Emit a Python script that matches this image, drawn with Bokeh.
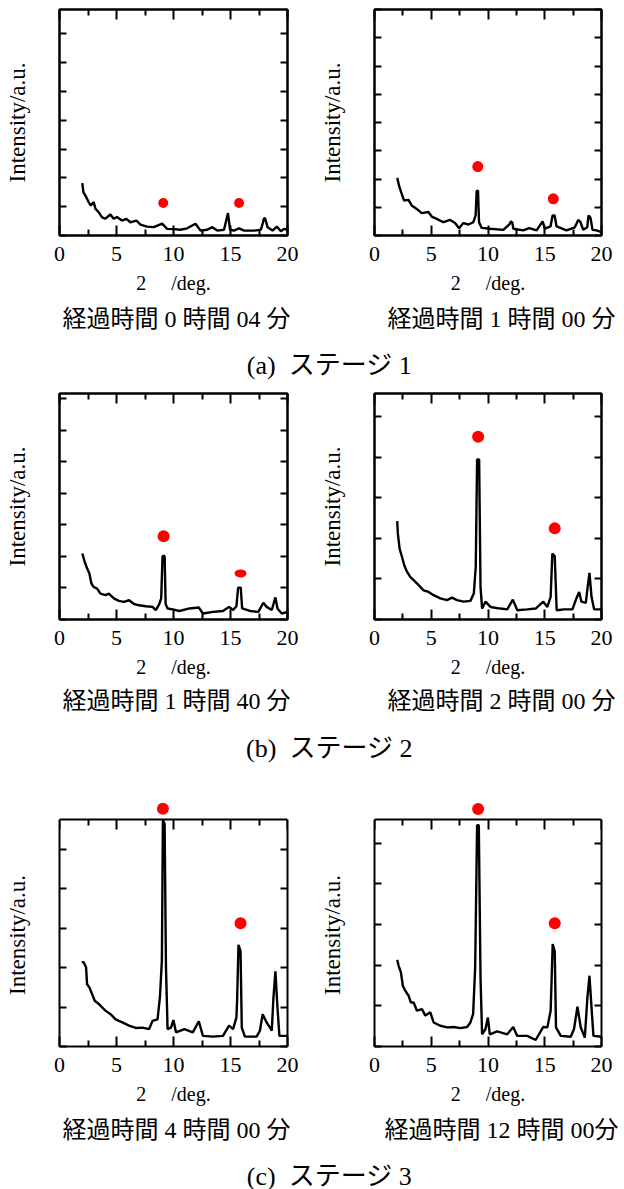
from bokeh.plotting import figure
from bokeh.models import Label, LinearAxis, FixedTicker, Range1d
from bokeh.layouts import column, row
from bokeh.embed import file_html
from bokeh.resources import INLINE

# ---------------- data ----------------
x_major = [0, 5, 10, 15, 20]
x_minor = [2.5, 7.5, 12.5, 17.5]
y_ticks = [0, 1, 2, 3, 4, 5, 6, 7, 8]

a1_x = [2.0, 2.1, 2.35, 2.55, 2.75, 3.0, 3.15, 3.43, 3.72, 4.0, 4.46, 4.75, 5.04, 5.48, 5.87, 6.22,
        6.75, 7.1, 7.68, 8.27, 9.0, 9.44, 10.03, 10.6, 11.2, 11.93, 12.37, 12.96, 13.4, 13.84, 14.43,
        14.78, 14.96, 15.3, 15.75, 16.2, 17.07, 17.66, 17.85, 17.95, 18.05, 18.25, 18.69, 19.06,
        19.42, 19.7, 20.0]
a1_y = [1.82, 1.50, 1.33, 1.16, 1.04, 1.16, 0.93, 0.81, 0.64, 0.58, 0.73, 0.58, 0.64, 0.52, 0.58, 0.46,
        0.52, 0.38, 0.31, 0.29, 0.41, 0.23, 0.22, 0.20, 0.25, 0.41, 0.17, 0.20, 0.29, 0.17, 0.20,
        0.78, 0.20, 0.17, 0.25, 0.17, 0.17, 0.20, 0.45, 0.61, 0.58, 0.29, 0.17, 0.31,
        0.15, 0.23, 0.20]
a1_dot_x = [9.1, 15.75]
a1_dot_y = [1.13, 1.13]
a1_ymax = 7.85
a1_caption = "経過時間 0 時間 04 分"

a2_x = [2.0, 2.2, 2.4, 2.6, 3.0, 3.28, 3.72, 4.16, 4.75, 5.04, 5.48, 6.07, 6.66, 7.1, 7.45, 7.83,
        8.27, 8.71, 8.91, 9.0, 9.12, 9.21, 9.44, 10.18, 11.35, 11.9, 12.02, 12.15, 12.23, 13.1, 13.64,
        14.28, 14.81, 15.01, 15.51, 15.69, 15.87, 16.04, 16.92, 17.65, 17.95, 18.15, 18.39, 18.74,
        18.86, 19.03, 19.21, 19.56, 20.0]
a2_y = [2.04, 1.71, 1.47, 1.24, 1.26, 1.06, 0.94, 0.79, 0.83, 0.67, 0.59, 0.47, 0.55, 0.44, 0.26, 0.44,
        0.39, 0.47, 0.71, 1.57, 1.59, 0.47, 0.27, 0.24, 0.20, 0.40, 0.50, 0.45, 0.24, 0.18, 0.26,
        0.18, 0.50, 0.24, 0.32, 0.71, 0.71, 0.32, 0.18, 0.29, 0.55, 0.47, 0.20, 0.29,
        0.71, 0.63, 0.20, 0.18, 0.12]
a2_dot_x = [9.1, 15.75]
a2_dot_y = [2.44, 1.30]
a2_ymax = 8.0
a2_caption = "経過時間 1 時間 00 分"

b1_x = [2.0, 2.21, 2.42, 2.62, 2.8, 3.0, 3.3, 3.59, 4.03, 4.33, 4.77, 5.21, 5.65, 6.1, 6.54, 6.98,
        7.57, 8.16, 8.45, 8.75, 8.92, 9.04, 9.22, 9.31, 9.48, 9.93, 10.52, 11.4, 12.22, 12.58, 13.46,
        14.34, 14.87, 15.23, 15.52, 15.67, 15.9, 16.02, 16.7, 17.44, 17.88, 18.17, 18.62, 18.94,
        19.12, 19.5, 20.0]
b1_y = [2.09, 1.83, 1.62, 1.46, 1.14, 1.03, 0.98, 0.82, 0.77, 0.82, 0.67, 0.59, 0.56, 0.61, 0.49, 0.45,
        0.42, 0.40, 0.30, 0.49, 0.67, 2.01, 2.01, 0.49, 0.35, 0.32, 0.27, 0.35, 0.38, 0.19, 0.24,
        0.27, 0.40, 0.30, 0.42, 1.01, 1.01, 0.35, 0.27, 0.24, 0.53, 0.40, 0.30, 0.70,
        0.35, 0.19, 0.24]
b1_dot_x = [9.13, 15.88]
b1_dot_y = [2.64, 1.46]
b1_ymax = 7.16
b1_caption = "経過時間 1 時間 40 分"

b2_x = [2.0, 2.06, 2.21, 2.42, 2.62, 2.86, 3.15, 3.45, 3.89, 4.33, 4.77, 5.21, 5.8, 6.39, 6.83, 7.27,
        7.86, 8.45, 8.75, 8.92, 9.04, 9.22, 9.34, 9.48, 9.78, 10.22, 11.1, 11.69, 12.19, 12.58, 13.46,
        14.2, 14.87, 15.23, 15.52, 15.67, 15.88, 16.05, 16.7, 17.44, 17.73, 18.03, 18.23, 18.62,
        18.76, 18.94, 19.12, 19.35, 20.0]
b2_y = [2.43, 2.12, 1.75, 1.55, 1.34, 1.18, 1.05, 0.97, 0.85, 0.72, 0.68, 0.60, 0.52, 0.48, 0.54, 0.48,
        0.44, 0.46, 0.64, 1.30, 3.95, 3.95, 0.81, 0.27, 0.44, 0.31, 0.27, 0.25, 0.49, 0.23, 0.25,
        0.27, 0.44, 0.31, 0.56, 1.63, 1.56, 0.23, 0.25, 0.25, 0.48, 0.68, 0.44, 0.41,
        0.76, 1.15, 0.56, 0.25, 0.25]
b2_dot_x = [9.13, 15.88]
b2_dot_y = [4.51, 2.25]
b2_ymax = 5.58
b2_caption = "経過時間 2 時間 00 分"

c1_x = [1.95, 2.12, 2.33, 2.42, 2.62, 2.86, 3.09, 3.45, 3.74, 4.03, 4.48, 4.92, 5.51, 6.1, 6.69, 7.27,
        7.86, 8.16, 8.6, 8.81, 8.98, 9.07, 9.22, 9.34, 9.48, 9.78, 9.99, 10.22, 10.96, 11.69, 12.22,
        12.58, 13.46, 14.34, 14.87, 15.23, 15.52, 15.58, 15.7, 15.88, 15.99, 16.26, 17.29, 17.58,
        17.82, 18.17, 18.47, 18.62, 18.76, 18.94, 19.12, 19.29, 20.0]
c1_y = [2.14, 2.14, 2.01, 1.58, 1.50, 1.33, 1.16, 1.08, 0.99, 0.91, 0.82, 0.69, 0.61, 0.53, 0.47, 0.48,
        0.44, 0.65, 0.69, 1.25, 2.18, 5.74, 5.65, 2.01, 0.44, 0.48, 0.67, 0.36, 0.44, 0.36, 0.64,
        0.27, 0.25, 0.27, 0.53, 0.44, 0.74, 1.16, 2.58, 2.42, 0.48, 0.25, 0.25, 0.40,
        0.82, 0.61, 0.48, 0.40, 1.20, 1.91, 0.99, 0.27, 0.27]
c1_dot_x = [9.07, 15.88]
c1_dot_y = [6.03, 3.13]
c1_ymax = 5.76
c1_caption = "経過時間 4 時間 00 分"

c2_x = [2.0, 2.12, 2.33, 2.5, 2.71, 3.0, 3.21, 3.45, 3.74, 4.18, 4.48, 4.92, 5.21, 5.8, 6.39, 6.98,
        7.57, 8.16, 8.45, 8.69, 8.87, 9.04, 9.19, 9.34, 9.48, 9.78, 9.99, 10.16, 10.81, 11.69, 12.22,
        12.58, 13.46, 14.2, 14.87, 15.23, 15.52, 15.7, 15.88, 15.99, 16.41, 17.29, 17.58, 17.88,
        18.17, 18.53, 18.76, 18.94, 19.12, 19.29, 20.0]
c2_y = [2.13, 1.99, 1.82, 1.49, 1.37, 1.25, 1.08, 1.08, 0.88, 0.92, 0.76, 0.84, 0.59, 0.51, 0.47, 0.48,
        0.45, 0.48, 0.59, 0.80, 1.95, 5.44, 5.44, 1.70, 0.30, 0.43, 0.71, 0.30, 0.37, 0.30, 0.48,
        0.26, 0.26, 0.16, 0.48, 0.47, 0.88, 2.52, 2.34, 0.47, 0.26, 0.24, 0.43, 0.98,
        0.47, 0.22, 1.21, 1.74, 0.96, 0.26, 0.24]
c2_dot_x = [9.13, 15.88]
c2_dot_y = [5.84, 3.03]
c2_ymax = 5.58
c2_caption = "経過時間 12 時間 00分"

x_label = "2\u2003 /deg."
y_label = "Intensity/a.u."
stage_captions = ["(a)\u2002ステージ 1", "(b)\u2002ステージ 2", "(c)\u2002ステージ 3"]

# ---------------- styling ----------------
SERIF = "Liberation Serif"
MIXED = "'Liberation Serif', 'Noto Sans CJK JP'"


def style_axis(ax, labels):
    ax.axis_line_color = "black"
    ax.axis_line_width = 2
    ax.major_tick_line_color = "black"
    ax.major_tick_line_width = 2
    ax.minor_tick_line_color = "black"
    ax.minor_tick_line_width = 2
    ax.major_tick_out = 0
    ax.minor_tick_out = 0
    if not labels:
        ax.major_label_text_font_size = "0px"
        ax.major_label_text_color = None
        ax.major_label_standoff = 0


def make_panel(xs, ys, dxs, dys, ymax, mb_left, mb_right, mb_top, mb_bottom,
               fw, fh, dot_w, dot_h, extra_top_px=0):
    # extra_top_px: room above the drawn box (the box top is the axis fixed at ymax)
    ytop = ymax * (fh + extra_top_px) / fh
    p = figure(frame_width=fw, frame_height=fh + extra_top_px,
               x_range=Range1d(0, 20), y_range=Range1d(0, ytop),
               x_axis_type=None, y_axis_type=None,
               output_backend="svg", toolbar_location=None,
               min_border_left=mb_left, min_border_right=mb_right,
               min_border_top=mb_top, min_border_bottom=mb_bottom)
    p.background_fill_color = "white"
    p.border_fill_color = "white"
    if extra_top_px:
        p.outline_line_color = None
    else:
        p.outline_line_color = "black"
        p.outline_line_width = 2

    xt = FixedTicker(ticks=x_major, minor_ticks=x_minor)
    yt = FixedTicker(ticks=[t for t in y_ticks if t <= ymax])

    bottom = LinearAxis(ticker=xt)
    style_axis(bottom, True)
    bottom.major_tick_in = 10
    bottom.minor_tick_in = 6
    bottom.major_label_text_font = SERIF
    bottom.major_label_text_font_size = "22px"
    bottom.major_label_text_color = "black"
    bottom.major_label_standoff = 11
    bottom.axis_label = x_label
    bottom.axis_label_text_font = SERIF
    bottom.axis_label_text_font_size = "20px"
    bottom.axis_label_text_font_style = "normal"
    bottom.axis_label_text_color = "black"
    bottom.axis_label_standoff = 8
    p.add_layout(bottom, "below")

    top = LinearAxis(ticker=xt)
    style_axis(top, False)
    top.major_tick_in = 10
    top.minor_tick_in = 6
    if extra_top_px:
        top.fixed_location = ymax
    p.add_layout(top, "above")

    left = LinearAxis(ticker=yt, bounds=(0, ymax))
    style_axis(left, False)
    left.major_tick_in = 7
    left.minor_tick_line_color = None
    # the label is centred on the whole frame; pad its end so the visible
    # text stays centred on the drawn box when the frame is taller
    left.axis_label = y_label + ("\u2003" if extra_top_px else "")
    left.axis_label_text_font = SERIF
    left.axis_label_text_font_size = "23px"
    left.axis_label_text_font_style = "normal"
    left.axis_label_text_color = "black"
    left.axis_label_standoff = 30
    p.add_layout(left, "left")

    right = LinearAxis(ticker=yt, bounds=(0, ymax))
    style_axis(right, False)
    right.major_tick_in = 7
    right.minor_tick_line_color = None
    p.add_layout(right, "right")

    p.line(xs, ys, line_color="black", line_width=2.4)
    p.ellipse(x=dxs, y=dys, width=dot_w, height=dot_h,
              width_units="screen", height_units="screen",
              fill_color="#ff0000", line_color=None)
    return p


def caption_fig(h, texts):
    c = figure(width=624, height=h, x_range=Range1d(0, 624), y_range=Range1d(0, h),
               x_axis_type=None, y_axis_type=None, output_backend="svg",
               toolbar_location=None, min_border=0)
    c.outline_line_color = None
    for text, cx, cy, size in texts:
        c.add_layout(Label(x=cx, y=h - cy, text=text, text_font=MIXED,
                           text_font_size=size, text_color="black",
                           text_align="center", text_baseline="middle"))
    return c


# row a  (page y 0 -> 298)
pa1 = make_panel(a1_x, a1_y, a1_dot_x, a1_dot_y, a1_ymax, 59, 29, 9, 63, 228, 226,
                 [10, 10], [10, 10])
pa2 = make_panel(a2_x, a2_y, a2_dot_x, a2_dot_y, a2_ymax, 57, 24, 9, 63, 227, 226,
                 [11, 11], [11, 11])
ca = caption_fig(90, [(a1_caption, 176, 20, "24px"), (a2_caption, 501, 20, "24px"),
                      (stage_captions[0], 329, 67, "26px")])

# row b  (page y 388 -> 680)
pb1 = make_panel(b1_x, b1_y, b1_dot_x, b1_dot_y, b1_ymax, 59, 29, 5, 61, 228, 226,
                 [12, 12], [12, 8])
pb2 = make_panel(b2_x, b2_y, b2_dot_x, b2_dot_y, b2_ymax, 57, 24, 5, 61, 227, 226,
                 [12, 12], [12, 12])
cb = caption_fig(119, [(b1_caption, 176, 20, "24px"), (b2_caption, 501, 20, "24px"),
                       (stage_captions[1], 329, 68, "26px")])

# row c  (page y 799 -> 1105)
pc1 = make_panel(c1_x, c1_y, c1_dot_x, c1_dot_y, c1_ymax, 59, 29, 1, 59, 228, 227,
                 [12, 12], [12, 12], extra_top_px=19)
pc2 = make_panel(c2_x, c2_y, c2_dot_x, c2_dot_y, c2_ymax, 57, 24, 1, 59, 227, 227,
                 [12, 12], [12, 12], extra_top_px=19)
cc = caption_fig(83, [(c1_caption, 176, 22, "24px"), (c2_caption, 501, 22, "24px"),
                      (stage_captions[2], 329, 69, "26px")])

layout = column(row(pa1, pa2), ca, row(pb1, pb2), cb, row(pc1, pc2), cc)

open("out.html", "w").write(file_html(layout, INLINE))
